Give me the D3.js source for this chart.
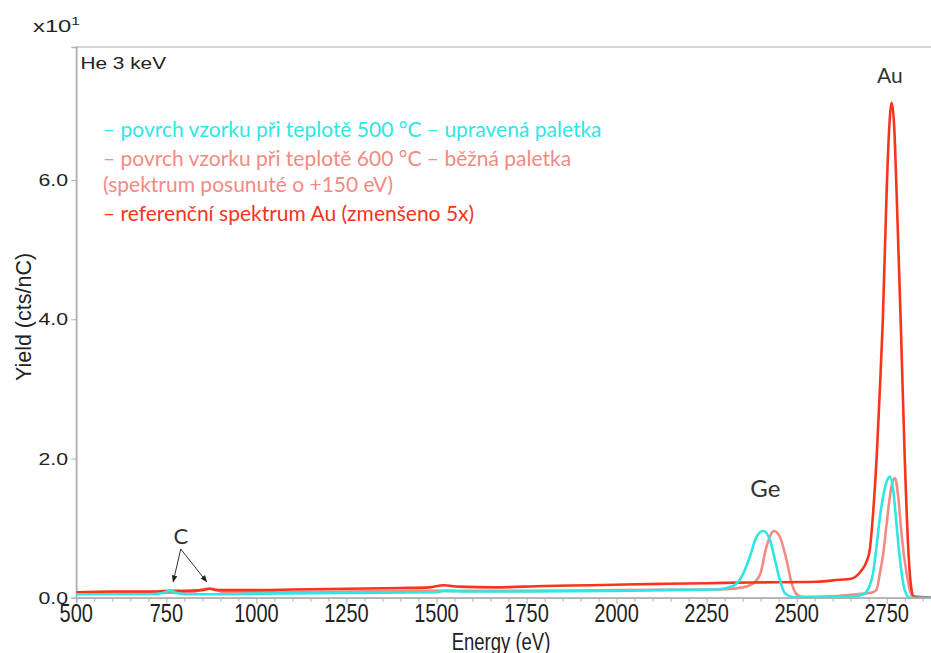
<!DOCTYPE html>
<html>
<head>
<meta charset="utf-8">
<script src="https://cdn.jsdelivr.net/npm/d3@7"></script>
<style>
  body { margin: 0; background: #fff; }
  svg { display: block; }
</style>
</head>
<body>
<div id="chart"></div>
<script>
// Spektra [energie eV, yield x10^1 cts/nC]
const surf500 = [
  [500,0.05],[600,0.05],[700,0.05],[740,0.07],[760,0.10],[780,0.07],[800,0.05],[900,0.05],
  [1000,0.06],[1250,0.07],[1500,0.08],[1520,0.10],[1600,0.09],[1750,0.09],[2000,0.10],
  [2120,0.11],[2278,0.12],[2324,0.17],[2352,0.35],[2370,0.59],[2389,0.88],[2407,0.96],
  [2426,0.83],[2440,0.54],[2453,0.26],[2467,0.07],[2490,0.01],[2600,0.01],[2648,0.01],
  [2685,0.05],[2703,0.18],[2712,0.35],[2722,0.75],[2731,1.15],[2740,1.45],[2750,1.67],
  [2759,1.74],[2768,1.55],[2777,1.07],[2786,0.59],[2800,0.11],[2814,0.0],[2873,0.0]
];
const surf600 = [
  [500,0.07],[700,0.07],[820,0.08],[860,0.13],[880,0.13],[910,0.08],[1000,0.08],[1250,0.09],
  [1500,0.10],[1750,0.10],[2000,0.11],[2278,0.12],[2324,0.13],[2370,0.18],[2398,0.33],
  [2416,0.73],[2437,0.96],[2453,0.88],[2472,0.54],[2486,0.21],[2500,0.05],[2517,0.01],
  [2600,0.02],[2666,0.05],[2712,0.08],[2722,0.12],[2731,0.35],[2740,0.62],[2750,1.07],
  [2764,1.62],[2773,1.72],[2782,1.45],[2791,0.93],[2805,0.36],[2819,0.04],[2833,0.0],[2873,0.0]
];
const auRef = [
  [500,0.08],[600,0.09],[700,0.09],[760,0.10],[800,0.10],[850,0.11],[870,0.13],[890,0.11],
  [1000,0.11],[1100,0.12],[1250,0.13],[1400,0.14],[1480,0.15],[1520,0.18],[1560,0.16],
  [1660,0.15],[1800,0.17],[1930,0.18],[2120,0.20],[2250,0.21],[2370,0.22],[2556,0.23],
  [2620,0.26],[2648,0.27],[2675,0.36],[2694,0.52],[2703,0.69],[2712,1.2],[2722,2.0],
  [2731,3.0],[2739,3.95],[2750,5.86],[2757,6.75],[2764,7.11],[2771,6.75],[2777,5.9],
  [2789,3.95],[2800,2.02],[2811,0.6],[2818,0.15],[2825,0.02],[2873,0.0]
];

const xTicks = [500, 750, 1000, 1250, 1500, 1750, 2000, 2250, 2500, 2750];
const yTicks = [0, 2, 4, 6];

const legendLines = [
  { text: "– povrch vzorku při teplotě 500 °C – upravená paletka", color: "#2ee6e6" },
  { text: "– povrch vzorku při teplotě 600 °C – běžná paletka", color: "#f38a84" },
  { text: "(spektrum posunuté o +150 eV)", color: "#f38a84" },
  { text: "– referenční spektrum Au (zmenšeno 5x)", color: "#f7341c" }
];

const w = 931, h = 653;
const plot = { left: 76.3, top: 47, right: 931, bottom: 597.8 };

const svg = d3.select("#chart").append("svg")
  .attr("width", w)
  .attr("height", h);

const xScale = d3.scaleLinear().domain([500, 2873]).range([plot.left, plot.right]);
const yScale = d3.scaleLinear().domain([0, 7.91]).range([plot.bottom, plot.top]);

// rámeček grafu
svg.append("rect")
  .attr("x", plot.left)
  .attr("y", plot.top)
  .attr("width", plot.right - plot.left + 5)
  .attr("height", plot.bottom - plot.top)
  .attr("fill", "none")
  .attr("stroke", "#c8c8c8")
  .attr("stroke-width", 1.5);

// osa x - hlavní a vedlejší tiky
const xAxis = svg.append("g")
  .attr("transform", `translate(0,${plot.bottom})`)
  .call(d3.axisBottom(xScale).tickValues(d3.range(500, 2873, 50)).tickSize(4).tickFormat(""));
xAxis.select(".domain").attr("stroke", "#b0b0b0").attr("stroke-width", 1.5);
xAxis.selectAll(".tick line").attr("stroke", "#b0b0b0");
xAxis.selectAll(".tick").filter(d => xTicks.includes(d)).select("line").attr("y2", 6);

xTicks.forEach(t => {
  svg.append("text")
    .attr("transform", `translate(${xScale(t)},622) scale(1,1.3)`)
    .attr("text-anchor", "middle")
    .attr("font-family", "Liberation Sans, Arial, sans-serif")
    .attr("font-size", 20)
    .attr("fill", "#222")
    .text(t);
});

// osa y
const yAxis = svg.append("g")
  .attr("transform", `translate(${plot.left},0)`)
  .call(d3.axisLeft(yScale).tickValues(yTicks).tickSize(5).tickFormat(""));
yAxis.select(".domain").attr("stroke", "#b0b0b0").attr("stroke-width", 1.5);
yAxis.selectAll(".tick line").attr("stroke", "#b0b0b0");

yTicks.forEach(t => {
  svg.append("text")
    .attr("transform", `translate(68,${yScale(t) + 6}) scale(1.33,1)`)
    .attr("text-anchor", "end")
    .attr("font-family", "Liberation Sans, Arial, sans-serif")
    .attr("font-size", 16)
    .attr("fill", "#222")
    .text(t.toFixed(1));
});

svg.append("text")
  .attr("transform", "translate(31,317) rotate(-90)")
  .attr("text-anchor", "middle")
  .attr("font-family", "Liberation Sans, Arial, sans-serif")
  .attr("font-size", 21.5)
  .attr("fill", "#222")
  .text("Yield (cts/nC)");

svg.append("text")
  .attr("transform", `translate(501,650) scale(1,1.3)`)
  .attr("text-anchor", "middle")
  .attr("font-family", "Liberation Sans, Arial, sans-serif")
  .attr("font-size", 18.5)
  .attr("fill", "#222")
  .text("Energy (eV)");

// x10^1
const mult = svg.append("text")
  .attr("transform", "translate(33,32) scale(1.4,1)")
  .attr("font-family", "Liberation Sans, Arial, sans-serif")
  .attr("font-size", 17)
  .attr("fill", "#222");
mult.append("tspan").text("x10");
mult.append("tspan").attr("font-size", 11).attr("dy", -7).text("1");

svg.append("text")
  .attr("transform", "translate(80.5,68.5) scale(1.3,1)")
  .attr("font-family", "Liberation Sans, Arial, sans-serif")
  .attr("font-size", 16)
  .attr("fill", "#222")
  .text("He 3 keV");

// křivky
svg.append("clipPath").attr("id", "clip")
  .append("rect")
  .attr("x", plot.left).attr("y", plot.top)
  .attr("width", plot.right - plot.left).attr("height", plot.bottom - plot.top);

const line = d3.line()
  .x(d => xScale(d[0]))
  .y(d => yScale(d[1]))
  .curve(d3.curveMonotoneX);

const series = [
  { data: surf600, color: "#f38a84" },
  { data: auRef, color: "#f7341c" },
  { data: surf500, color: "#2ee6e6" }
];

svg.append("g")
  .attr("clip-path", "url(#clip)")
  .selectAll("path")
  .data(series)
  .enter()
  .append("path")
  .attr("d", d => line(d.data))
  .attr("fill", "none")
  .attr("stroke", d => d.color)
  .attr("stroke-width", 2.6)
  .attr("stroke-linejoin", "round");

// legenda
const legendY = [137, 165.5, 192, 220.5];
svg.selectAll(".legend")
  .data(legendLines)
  .enter()
  .append("text")
  .attr("class", "legend")
  .attr("x", 103)
  .attr("y", (d, i) => legendY[i])
  .attr("font-family", "Lato, sans-serif")
  .attr("font-size", 21)
  .attr("fill", d => d.color)
  .text(d => d.text);

// popisky píků
const peakLabels = [
  { text: "Au", e: 2759, y: 83, size: 21 },
  { text: "Ge", e: 2413, y: 497, size: 24 },
  { text: "C", e: 790, y: 544, size: 22 }
];
svg.selectAll(".peak")
  .data(peakLabels)
  .enter()
  .append("text")
  .attr("class", "peak")
  .attr("x", d => xScale(d.e))
  .attr("y", d => d.y)
  .attr("text-anchor", "middle")
  .attr("font-family", "Lato, sans-serif")
  .attr("font-size", d => d.size)
  .attr("fill", "#333")
  .text(d => d.text);

// šipky k píkům C
svg.append("defs").append("marker")
  .attr("id", "arrow")
  .attr("viewBox", "0 0 10 10")
  .attr("refX", 9).attr("refY", 5)
  .attr("markerWidth", 7).attr("markerHeight", 7)
  .attr("orient", "auto")
  .append("path")
  .attr("d", "M0,1 L10,5 L0,9 Z")
  .attr("fill", "#222");

const arrowTargets = [769, 862];
arrowTargets.forEach(e => {
  svg.append("line")
    .attr("x1", xScale(790))
    .attr("y1", 549)
    .attr("x2", xScale(e))
    .attr("y2", yScale(0.23))
    .attr("stroke", "#333")
    .attr("stroke-width", 1)
    .attr("marker-end", "url(#arrow)");
});
</script>
</body>
</html>
